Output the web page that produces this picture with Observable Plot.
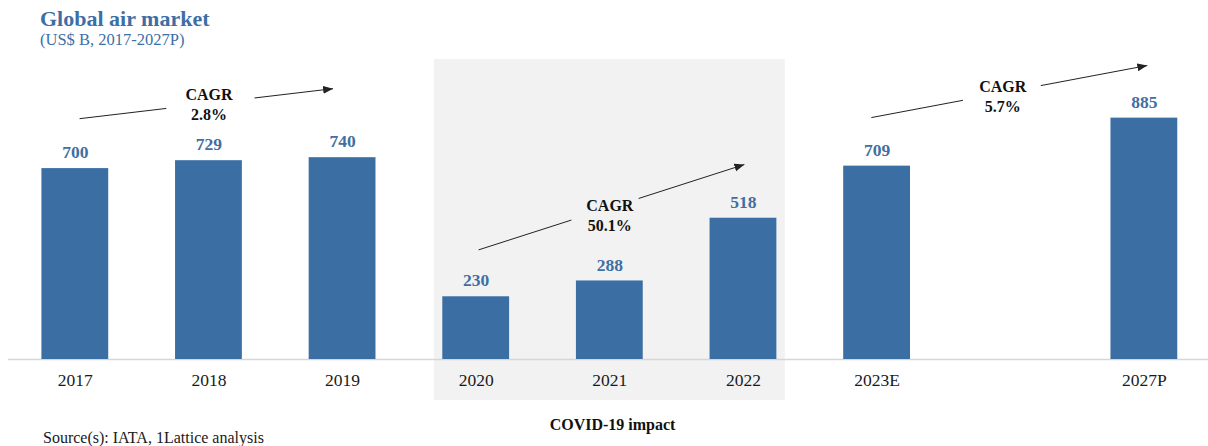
<!DOCTYPE html>
<html><head><meta charset="utf-8">
<script src="https://cdn.jsdelivr.net/npm/d3@7"></script>
<script src="https://cdn.jsdelivr.net/npm/@observablehq/plot@0.6"></script>
<style>
body{margin:0;background:#fff;font-family:"Liberation Serif","Times New Roman",serif;position:relative;width:1208px;height:446px;overflow:hidden}
#header{height:52px;padding-left:40px;box-sizing:border-box;padding-top:7px}
#title{font-size:22px;font-weight:bold;line-height:24px;color:#3d6fa6}
#subtitle{font-size:16.5px;line-height:17px;color:#3d6fa6}
#caption{position:absolute;left:43px;top:429px;font-size:16px;line-height:18px;color:#1a1a1a;white-space:nowrap}
</style></head>
<body>
<div id="header"><div id="title">Global air market</div><div id="subtitle">(US$ B, 2017-2027P)</div></div>
<div id="chart"></div>
<div id="caption">Source(s): IATA, 1Lattice analysis</div>
<script>
// ---- data ----
const categories = ["2017","2018","2019","2020","2021","2022","2023E","","2027P"];
const marketSize = [700,729,740,230,288,518,709,null,885];

// CAGR annotations (x in category-slot units, y in US$ B)
const cagrLabels = ["CAGR\n2.8%","CAGR\n50.1%","CAGR\n5.7%"];
const cagrFrom = [[0.032, 883],[3.018, 402],[5.957, 887]];
const cagrTo   = [[1.929, 993],[5.007, 715],[8.022, 1078]];
const cagrGap  = [[0.342, 0.690],[0.349, 0.602],[0.332, 0.614]];
const cagrText = [[1.0, 937],[4.0, 531],[6.94, 967]];

const covidLabel = "COVID-19 impact";
const covidSpan = ["2020","2022"];

// ---- derived tables ----
const bars = categories.map((c, i) => ({i, c, value: marketSize[i]})).filter(d => d.value != null);
const lerp = (a, b, t) => a + (b - a) * t;
const leftSegs = cagrLabels.map((l, k) => ({
  x1: cagrFrom[k][0], y1: cagrFrom[k][1],
  x2: lerp(cagrFrom[k][0], cagrTo[k][0], cagrGap[k][0]),
  y2: lerp(cagrFrom[k][1], cagrTo[k][1], cagrGap[k][0])
}));
const rightSegs = cagrLabels.map((l, k) => ({
  x1: lerp(cagrFrom[k][0], cagrTo[k][0], cagrGap[k][1]),
  y1: lerp(cagrFrom[k][1], cagrTo[k][1], cagrGap[k][1]),
  x2: cagrTo[k][0], y2: cagrTo[k][1]
}));
const cagrTexts = cagrLabels.map((l, k) => ({label: l, x: cagrText[k][0], y: cagrText[k][1]}));
const covidIdx = covidSpan.map(c => categories.indexOf(c));
const shade = [{x1: covidIdx[0] - 0.313, x2: covidIdx[1] + 0.313, y1: -150, y2: 1100}];
const covidText = [{x: (covidIdx[0] + covidIdx[1]) / 2 + 0.02, y: -240, label: covidLabel}];

const barColor = "#3b6fa4";
const labelColor = "#3f6fa3";

function solidArrow(color) {
  const m = d3.create("svg:marker")
    .attr("viewBox", "-10 -5 10 10")
    .attr("markerWidth", 10).attr("markerHeight", 10)
    .attr("markerUnits", "userSpaceOnUse")
    .attr("orient", "auto")
    .attr("fill", color)
    .attr("stroke", "none");
  m.append("path").attr("d", "M-10,-4L0,0L-10,4Z");
  return m.node();
}

function build(marker) {
  return Plot.plot({
    width: 1208,
    height: 381,
    marginTop: 7,
    marginBottom: 74,
    marginLeft: 8,
    marginRight: 0,
    style: {fontFamily: '"Liberation Serif","Times New Roman",serif', fontSize: "17.5px", color: "#1a1a1a", background: "transparent", overflow: "visible"},
    x: {type: "linear", domain: [-0.5, 8.48], axis: null},
    y: {domain: [0, 1100], axis: null},
    marks: [
      Plot.rect(shade, {x1: "x1", x2: "x2", y1: "y1", y2: "y2", fill: "#f2f2f2"}),
      Plot.ruleY([0], {stroke: "#d6d6d6", strokeWidth: 1.3}),
      Plot.rect(bars, {x1: d => d.i - 0.25, x2: d => d.i + 0.25, y1: 0, y2: "value", fill: barColor}),
      Plot.text(bars, {x: "i", y: "value", text: d => String(d.value), dy: -16, fontWeight: "bold", fontSize: 17.5, fill: labelColor}),
      Plot.axisX({
        ticks: categories.map((c, i) => i).filter(i => categories[i] !== ""),
        tickFormat: i => categories[i],
        tickSize: 0, tickPadding: 14, fontSize: 17.5, label: null, fill: "#1a1a1a"
      }),
      Plot.link(leftSegs, {x1: "x1", y1: "y1", x2: "x2", y2: "y2", stroke: "#222", strokeWidth: 1}),
      Plot.link(rightSegs, {x1: "x1", y1: "y1", x2: "x2", y2: "y2", stroke: "#222", strokeWidth: 1, markerEnd: marker}),
      Plot.text(cagrTexts, {x: "x", y: "y", text: "label", lineHeight: 1.25, fontWeight: "bold", fontSize: 16, fill: "#111"}),
      Plot.text(covidText, {x: "x", y: "y", text: "label", fontWeight: "bold", fontSize: 16, fill: "#111"})
    ]
  });
}

let chart;
try { chart = build(solidArrow); } catch (e) { chart = build("arrow"); }
document.getElementById("chart").append(chart);
</script>
</body></html>
